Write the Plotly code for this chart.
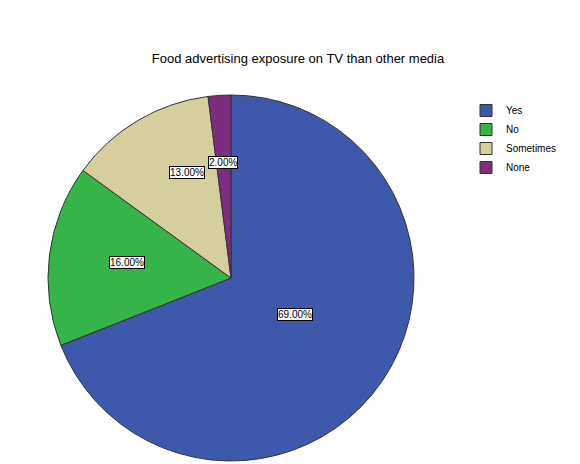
import math
import plotly.graph_objects as go

labels = ["Yes", "No", "Sometimes", "None"]
values = [69, 16, 13, 2]
colors = ["#3e58ac", "#35b549", "#d5cf9d", "#7d2c80"]

W, H = 580, 464
cx, cy, r = 223, 270, 183  # pixels from top-left

fig = go.Figure(go.Pie(
    labels=labels, values=values, sort=False, direction="clockwise", rotation=0,
    marker=dict(colors=colors, line=dict(color="#333333", width=1)),
    textinfo="none", hoverinfo="label+percent",
    domain=dict(x=[(cx - r) / W, (cx + r) / W], y=[(H - cy - r) / H, (H - cy + r) / H]),
))

# boxed percentage labels, like SPSS
total = sum(values)
cum = 0
for lab, v in zip(labels, values):
    mid = (cum + v / 2) / total * 2 * math.pi
    cum += v
    k = 0.42 if v / total > 0.5 else 0.67
    px = cx + r * k * math.sin(mid)
    py = cy - r * k * math.cos(mid)
    fig.add_annotation(x=px / W, y=1 - py / H, xref="paper", yref="paper",
                       text=f"{v / total * 100:.2f}%", showarrow=False,
                       font=dict(family="Arial", size=10, color="black"),
                       bgcolor="white", bordercolor="black", borderwidth=1, borderpad=0)

fig.update_layout(
    width=W, height=H, paper_bgcolor="white", plot_bgcolor="white",
    margin=dict(l=0, r=0, t=0, b=0),
    title=dict(text="Food advertising exposure on TV than other media", x=0.5, y=1 - 50 / H,
               xanchor="center", yanchor="middle",
               font=dict(family="Arial", size=13, color="black")),
    legend=dict(x=458 / W, y=1 - 88 / H, xanchor="left", yanchor="top",
                font=dict(family="Arial", size=10, color="black"),
                itemwidth=30, tracegroupgap=0),
)

fig.write_html("out.html")
